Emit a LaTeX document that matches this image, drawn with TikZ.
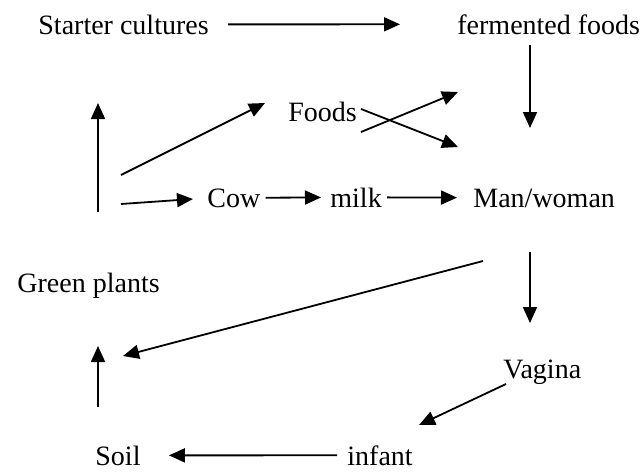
\documentclass[tikz,border=0pt]{standalone}
\usepackage{fontspec}
\setmainfont{Liberation Serif}
\usetikzlibrary{arrows.meta}

\begin{document}
\begin{tikzpicture}[
    x=0.5pt, y=-0.5pt,
    word/.style={anchor=base west, inner sep=0pt, font=\fontsize{14}{17}\selectfont},
    arr/.style={-{Triangle[length=8pt, width=7pt]}, line width=0.9pt}
]
\useasboundingbox (0,0) rectangle (642,471);

\node[word] (starter) at (38,34) {Starter cultures};
\node[word] (ferm) at (457,34) {fermented foods};
\node[word] (foods) at (288,121) {Foods};
\node[word] (cow) at (207,207) {Cow};
\node[word] (milk) at (330,207) {milk};
\node[word] (man) at (473,207) {Man/woman};
\node[word] (plants) at (17,292) {Green plants};
\node[word] (vagina) at (503,378) {Vagina};
\node[word] (soil) at (95,465) {Soil};
\node[word] (infant) at (347,465) {infant};

% loose arrow ends
\coordinate (fermlow) at (530,45);
\coordinate (fermtip) at (530,128);
\coordinate (leftlow) at (98,212);
\coordinate (lefttip) at (98,103);
\coordinate (forkup) at (121,175);
\coordinate (forkupTip) at (265,103);
\coordinate (forkdown) at (121,204);
\coordinate (forkdownTip) at (193,199);
\coordinate (foodsA) at (361,109);
\coordinate (foodsAtip) at (458,147);
\coordinate (foodsB) at (361,132);
\coordinate (foodsBtip) at (458,92);
\coordinate (manlow) at (530,252);
\coordinate (mantip) at (530,323);
\coordinate (manleft) at (483,261);
\coordinate (plantstip) at (123,356);
\coordinate (vaginalow) at (506,384);
\coordinate (infanttip) at (419,425);
\coordinate (soillow) at (98,407);
\coordinate (soiltip) at (98,346);

\draw[arr, shorten <=9.5pt, shorten >=28.5pt] (starter) -- (ferm);
\draw[arr] (fermlow) -- (fermtip);
\draw[arr] (leftlow) -- (lefttip);
\draw[arr] (forkup) -- (forkupTip);
\draw[arr] (forkdown) -- (forkdownTip);
\draw[arr] (foodsA) -- (foodsAtip);
\draw[arr] (foodsB) -- (foodsBtip);
\draw[arr, shorten <=2.5pt, shorten >=4.5pt] (cow) -- (milk);
\draw[arr, shorten <=2.5pt, shorten >=8pt] (milk) -- (man);
\draw[arr] (manlow) -- (mantip);
\draw[arr] (manleft) -- (plantstip);
\draw[arr] (vaginalow) -- (infanttip);
\draw[arr] (soillow) -- (soiltip);
\draw[arr, shorten <=5pt, shorten >=14pt] (infant) -- (soil);
\end{tikzpicture}
\end{document}
